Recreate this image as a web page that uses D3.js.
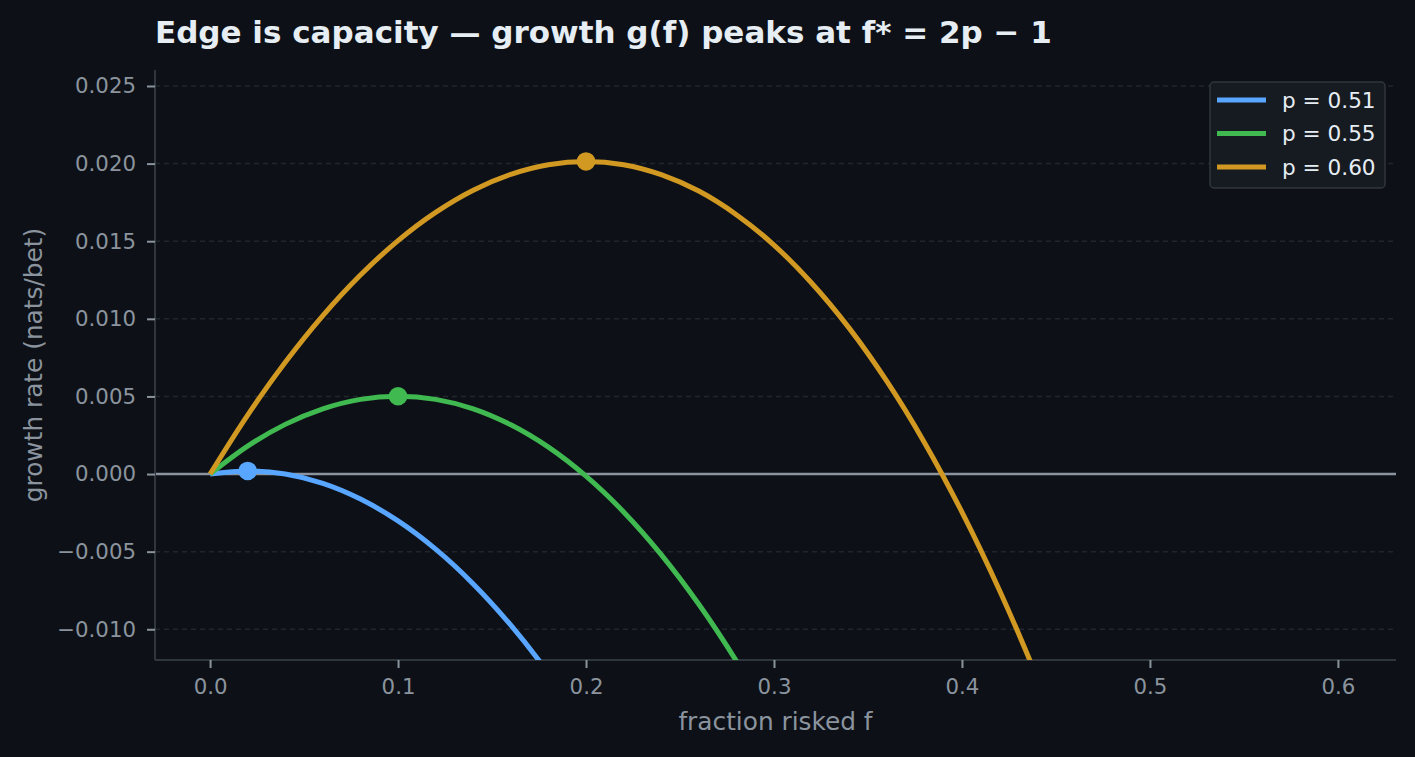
<!DOCTYPE html>
<html>
<head>
  <meta charset="utf-8">
  <title>Edge is capacity</title>
  <script src="https://cdn.jsdelivr.net/npm/d3@7"></script>
  <style>
    html, body { margin: 0; padding: 0; background: #0d1117; }
    svg { display: block; font-family: "DejaVu Sans", sans-serif; }
  </style>
</head>
<body>
<script>
  // fraction risked f, sampled every 0.02
  const fValues = [0, 0.02, 0.04, 0.06, 0.08, 0.10, 0.12, 0.14, 0.16, 0.18, 0.20,
                   0.22, 0.24, 0.26, 0.28, 0.30, 0.32, 0.34, 0.36, 0.38, 0.40,
                   0.42, 0.44, 0.46];

  // growth rate g(f) (nats/bet)
  const g051 = [0, 0.00020, 0.00000, -0.00060, -0.00161, -0.00302, -0.00484,
                -0.00708, -0.00974, -0.01283, -0.01636];
  const g055 = [0, 0.00180, 0.00320, 0.00420, 0.00481, 0.00501, 0.00481, 0.00420,
                0.00317, 0.00173, -0.00014, -0.00244, -0.00519, -0.00839,
                -0.01205, -0.01620];
  const g060 = [0, 0.00380, 0.00720, 0.01021, 0.01282, 0.01504, 0.01686, 0.01829,
                0.01931, 0.01993, 0.02014, 0.01993, 0.01929, 0.01823, 0.01671,
                0.01475, 0.01231, 0.00940, 0.00598, 0.00204, -0.00245, -0.00750,
                -0.01314, -0.01941];

  const seriesNames = ["p = 0.51", "p = 0.55", "p = 0.60"];
  const seriesColors = ["#58a6ff", "#3fb950", "#d29922"];
  const seriesValues = [g051, g055, g060];

  // optimum f* = 2p - 1 and its growth
  const peakF = [0.02, 0.10, 0.20];
  const peakG = [0.00020, 0.00501, 0.02014];

  const xTicks = [0, 0.1, 0.2, 0.3, 0.4, 0.5, 0.6];
  const yTicks = [-0.010, -0.005, 0.000, 0.005, 0.010, 0.015, 0.020, 0.025];

  const W = 1415, H = 757;
  const plot = {left: 155, right: 1396, top: 70, bottom: 660};

  const x = d3.scaleLinear().domain([-0.0293, 0.6309]).range([plot.left, plot.right]);
  const y = d3.scaleLinear().domain([-0.01198, 0.02603]).range([plot.bottom, plot.top]);

  const svg = d3.select("body").append("svg")
      .attr("width", W)
      .attr("height", H);

  svg.append("rect").attr("width", W).attr("height", H).attr("fill", "#0d1117");

  svg.append("defs").append("clipPath").attr("id", "clip")
    .append("rect")
      .attr("x", plot.left).attr("y", plot.top)
      .attr("width", plot.right - plot.left)
      .attr("height", plot.bottom - plot.top);

  // dashed grid lines
  svg.append("g")
    .selectAll("line")
    .data(yTicks)
    .enter().append("line")
      .attr("x1", plot.left).attr("x2", plot.right)
      .attr("y1", d => y(d)).attr("y2", d => y(d))
      .attr("stroke", "#21262d")
      .attr("stroke-width", 1.5)
      .attr("stroke-dasharray", "5,4");

  // zero line
  svg.append("line")
    .attr("x1", plot.left).attr("x2", plot.right)
    .attr("y1", y(0)).attr("y2", y(0))
    .attr("stroke", "#8b949e")
    .attr("stroke-width", 2.5);

  // axes
  const xAxis = d3.axisBottom(x).tickValues(xTicks).tickFormat(d3.format(".1f"))
    .tickSizeOuter(0).tickSize(8).tickPadding(11);
  const yAxis = d3.axisLeft(y).tickValues(yTicks).tickFormat(d3.format(".3f"))
    .tickSizeOuter(0).tickSize(8).tickPadding(11);

  const gx = svg.append("g")
    .attr("transform", "translate(0," + plot.bottom + ")")
    .call(xAxis);
  const gy = svg.append("g")
    .attr("transform", "translate(" + plot.left + ",0)")
    .call(yAxis);

  [gx, gy].forEach(function(g) {
    g.select(".domain").attr("stroke", "#30363d").attr("stroke-width", 2)
      .attr("d", g === gx
        ? "M" + plot.left + ",0H" + plot.right
        : "M0," + plot.top + "V" + plot.bottom);
    g.selectAll(".tick line").attr("stroke", "#8b949e").attr("stroke-width", 2);
    g.selectAll(".tick text")
      .attr("fill", "#8b949e")
      .attr("font-size", "21.3px")
      .attr("font-family", "DejaVu Sans");
  });

  // curves
  const line = d3.line()
    .x(d => x(d[0]))
    .y(d => y(d[1]))
    .curve(d3.curveCatmullRom);

  const curves = svg.append("g").attr("clip-path", "url(#clip)");
  seriesValues.forEach(function(vals, i) {
    const pts = vals.map((v, j) => [fValues[j], v]);
    curves.append("path")
      .datum(pts)
      .attr("d", line)
      .attr("fill", "none")
      .attr("stroke", seriesColors[i])
      .attr("stroke-width", 5)
      .attr("stroke-linejoin", "round");
  });

  // peak markers
  curves.selectAll(".peak")
    .data(peakF)
    .enter().append("circle")
      .attr("class", "peak")
      .attr("cx", d => x(d))
      .attr("cy", (d, i) => y(peakG[i]))
      .attr("r", 9.3)
      .attr("fill", (d, i) => seriesColors[i]);

  // title
  svg.append("text")
    .attr("x", 155)
    .attr("y", 43)
    .attr("fill", "#e6edf3")
    .attr("font-size", "31px")
    .attr("font-weight", "bold")
    .text("Edge is capacity \u2014 growth g(f) peaks at f* = 2p \u2212 1");

  // axis labels
  svg.append("text")
    .attr("x", (plot.left + plot.right) / 2)
    .attr("y", 730)
    .attr("text-anchor", "middle")
    .attr("fill", "#8b949e")
    .attr("font-size", "24.8px")
    .text("fraction risked f");

  svg.append("text")
    .attr("transform", "translate(42," + ((plot.top + plot.bottom) / 2) + ") rotate(-90)")
    .attr("text-anchor", "middle")
    .attr("fill", "#8b949e")
    .attr("font-size", "24.8px")
    .text("growth rate (nats/bet)");

  // legend
  const legend = svg.append("g");
  legend.append("rect")
    .attr("x", 1210).attr("y", 82)
    .attr("width", 175).attr("height", 106)
    .attr("rx", 4)
    .attr("fill", "#161b22")
    .attr("stroke", "#30363d")
    .attr("stroke-width", 1.5);

  seriesNames.forEach(function(name, i) {
    const ly = 100 + i * 33.5;
    legend.append("line")
      .attr("x1", 1217).attr("x2", 1266)
      .attr("y1", ly).attr("y2", ly)
      .attr("stroke", seriesColors[i])
      .attr("stroke-width", 5);
    legend.append("text")
      .attr("x", 1282).attr("y", ly + 7.8)
      .attr("fill", "#e6edf3")
      .attr("font-size", "21.6px")
      .text(name);
  });
</script>
</body>
</html>
